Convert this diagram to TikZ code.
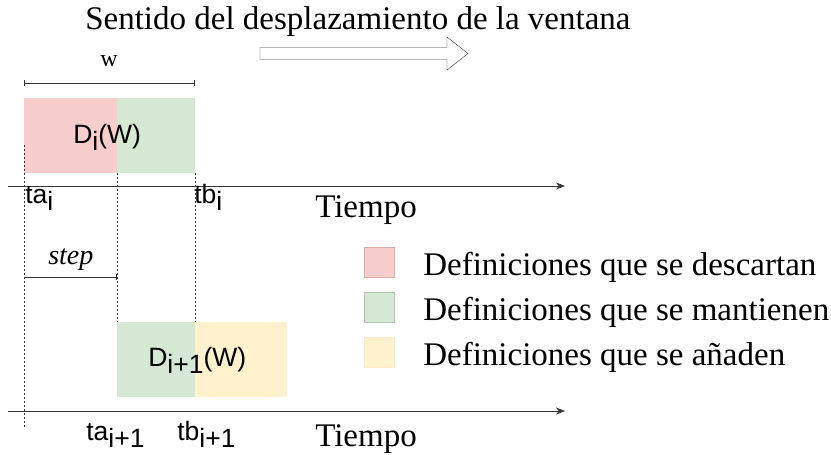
\documentclass[tikz,border=0pt]{standalone}
\usepackage{fontspec}
\setmainfont{Liberation Serif}
\setsansfont{Liberation Sans}
\usetikzlibrary{arrows,arrows.meta,positioning}

\definecolor{drop}{HTML}{F8CECC}
\definecolor{keep}{HTML}{D5E8D4}
\definecolor{add}{HTML}{FFF2CC}
\definecolor{axis}{HTML}{333333}
\newcommand{\low}[1]{\raisebox{-0.28em}{#1}}

\begin{document}
\begin{tikzpicture}[x=1pt,y=-1pt,>=stealth',semithick]
        \tikzstyle{part}=[minimum height=75pt,inner sep=0pt,outer sep=0pt,anchor=north west]
        \tikzstyle{lab}=[font=\sffamily\fontsize{26.5}{26.5}\selectfont,inner sep=0pt,anchor=base west]
        \tikzstyle{txt}=[font=\fontsize{33}{33}\selectfont,inner sep=0pt,anchor=base west]
        \tikzstyle{key}=[minimum size=30pt,inner sep=0pt,outer sep=0pt]
        \tikzstyle{guide}=[axis,thin,dash pattern=on 2pt off 2pt]
        \useasboundingbox (0,0) rectangle (831,455);

        % title and hollow arrow
        \node[txt] (T) at (85,29) {Sentido del desplazamiento de la ventana};
        \draw[axis,thin] (260,47.5) -- (447,47.5) -- (447,37) -- (468,53.5)
                -- (447,70) -- (447,59.5) -- (260,59.5) -- cycle;

        % window i
        \node[part,fill=drop,minimum width=93pt] (Ra) at (24,98) {};
        \node[part,fill=keep,minimum width=78pt] (Ga) at (Ra.north east) {};
        \node[lab] (Da) at (73,143) {D\low{i}(W)};

        % window i+1
        \node[part,fill=keep,minimum width=78pt] (Gb) at (117,322) {};
        \node[part,fill=add,minimum width=92pt] (Yb) at (Gb.north east) {};
        \node[lab] (Db) at (148,366) {D\low{i+1}(W)};

        % width w
        \node[txt,font=\fontsize{24}{24}\selectfont] (w) at (100,66) {w};
        \draw[axis,|-|,>=] (Ra.north west) ++(0,-15) coordinate (wa) -- (wa -| Ga.north east);

        % step
        \coordinate (sa) at (24,277);
        \coordinate (sb) at (117,277);
        \draw[axis,-|] (sa) -- (sb);
        \node[txt,font=\itshape\fontsize{28}{28}\selectfont] (s) at (48,264) {step};

        % time axes
        \coordinate (A1) at (8,186);
        \coordinate (B1) at (565,186);
        \coordinate (A2) at (8,411);
        \coordinate (B2) at (565,411);
        \draw[axis,-{Stealth[length=9pt,width=7pt]}] (A1) -- (B1);
        \draw[axis,-{Stealth[length=9pt,width=7pt]}] (A2) -- (B2);
        \node[txt] (t1) at (315,217) {Tiempo};
        \node[txt] (t2) at (315,446) {Tiempo};

        \node[lab] (ta1) at (25,203) {ta\low{i}};
        \node[lab] (tb1) at (194,203) {tb\low{i}};
        \node[lab] (ta2) at (86,440) {ta\low{i+1}};
        \node[lab] (tb2) at (177,440) {tb\low{i+1}};

        % guides
        \coordinate (g1) at (24,427);
        \draw[guide] (24,145) -- (g1);
        \draw[guide] (Ra.south east) -- (Gb.north west);
        \draw[guide] (Ga.south east) -- (Yb.north west);

        % legend
        \node[key,fill=drop,draw=drop!70!red!80!black!60] (k1) at (379,262) {};
        \node[key,fill=keep,draw=keep!70!green!60!black!50] (k2) [below=15pt of k1] {};
        \node[key,fill=add,draw=add!80!orange!60] (k3) [below=15pt of k2] {};
        \node[txt] (l1) at (423,275) {Definiciones que se descartan};
        \node[txt] (l2) at (423,320) {Definiciones que se mantienen};
        \node[txt] (l3) at (423,365) {Definiciones que se añaden};
\end{tikzpicture}
\end{document}
